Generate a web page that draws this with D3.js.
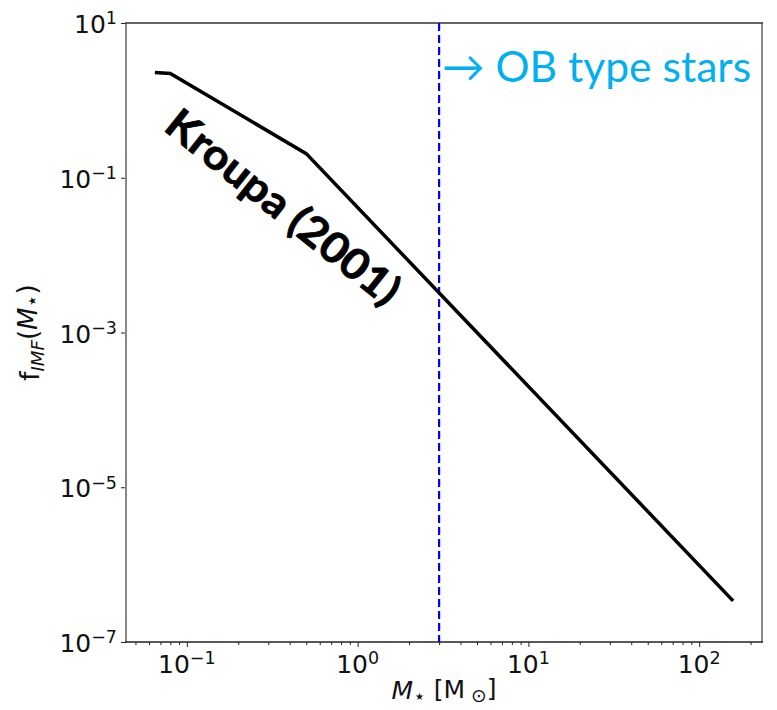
<!DOCTYPE html>
<html><head><meta charset="utf-8">
<script src="https://cdn.jsdelivr.net/npm/d3@7"></script>
<style>body{margin:0;background:#fff}svg{display:block}</style>
</head><body>
<svg id="c" width="777" height="710"></svg>
<script>
// ---- data ----
const masses = [0.065, 0.08, 0.5, 158];
const imf = [2.3, 2.22, 0.205, 3.4e-7];
const obMass = [3];
const xTickExps = [-1, 0, 1, 2];
const yTickExps = [1, -1, -3, -5, -7];
const lineLabel = "Kroupa (2001)";
const obLabel = "\u2192 OB type stars";

// ---- layout ----
const m = {l: 126, r: 762, t: 23, b: 642};
const svg = d3.select("#c");
const lmin = Math.log10(d3.min(masses)), lmax = Math.log10(d3.max(masses));
const pad = 0.05 * (lmax - lmin);
const x = d3.scaleLog().domain([10 ** (lmin - pad), 10 ** (lmax + pad)]).range([m.l, m.r]);
const y = d3.scaleLog().domain([1e-7, 10]).range([m.b, m.t]);

const font = "'DejaVu Sans', sans-serif";
const fs = 25;

// minor ticks
const minors = [];
for (let e = -2; e <= 2; e++) for (let k = 2; k <= 9; k++) {
  const v = k * 10 ** e;
  if (v >= x.domain()[0] && v <= x.domain()[1]) minors.push(v);
}

const gx = svg.append("g").attr("transform", `translate(0,${m.b})`);
gx.call(d3.axisBottom(x).tickValues(minors).tickSize(3).tickFormat(""));
gx.call(g => g.select(".domain").remove());
const gx2 = svg.append("g").attr("transform", `translate(0,${m.b})`);
gx2.call(d3.axisBottom(x).tickValues(xTickExps.map(e => 10 ** e)).tickSize(5).tickFormat(""));
gx2.call(g => g.select(".domain").remove());
svg.selectAll(".tick line").attr("stroke", "#222").attr("stroke-width", 1);

const gy = svg.append("g").attr("transform", `translate(${m.l},0)`);
gy.call(d3.axisLeft(y).tickValues(yTickExps.map(e => 10 ** e)).tickSize(5).tickFormat(""));
gy.call(g => g.select(".domain").remove());
gy.selectAll(".tick line").attr("stroke", "#222").attr("stroke-width", 1);

function powLabel(sel, e) {
  sel.append("tspan").text("10");
  sel.append("tspan").attr("dy", "-0.5em").attr("font-size", "0.7em")
    .text(e < 0 ? "\u2212" + Math.abs(e) : String(e));
}
xTickExps.forEach(e => {
  const t = svg.append("text").attr("x", x(10 ** e)).attr("y", 673)
    .attr("text-anchor", "middle").attr("font-family", font).attr("font-size", fs).attr("fill", "#111");
  powLabel(t, e);
});
yTickExps.forEach(e => {
  const t = svg.append("text").attr("x", m.l - 9).attr("y", y(10 ** e) + 10)
    .attr("text-anchor", "end").attr("font-family", font).attr("font-size", fs).attr("fill", "#111");
  powLabel(t, e);
});

// axis labels
const xl = svg.append("text").attr("x", (m.l + m.r) / 2).attr("y", 699)
  .attr("text-anchor", "middle").attr("font-family", font).attr("font-size", fs).attr("fill", "#111");
xl.append("tspan").attr("font-style", "italic").text("M");
xl.append("tspan").attr("font-size", "0.8em").attr("dy", "0.2em").text("\u22C6");
xl.append("tspan").attr("dy", "-0.2em").text(" [M");
xl.append("tspan").attr("font-size", "0.75em").attr("dy", "0.2em").text(" \u2299");
xl.append("tspan").attr("dy", "-0.2em").text("]");

const yl = svg.append("text").attr("transform", `translate(39,${(m.t + m.b) / 2}) rotate(-90)`)
  .attr("text-anchor", "middle").attr("font-family", font).attr("font-size", 26).attr("fill", "#111");
yl.append("tspan").text("f");
yl.append("tspan").attr("font-style", "italic").attr("font-size", "0.7em").attr("dy", "0.3em").text("IMF");
yl.append("tspan").attr("dy", "-0.3em").text("(");
yl.append("tspan").attr("font-style", "italic").text("M");
yl.append("tspan").attr("font-size", "0.8em").attr("dy", "0.1em").text("\u22C6");
yl.append("tspan").attr("dy", "-0.1em").text(")");

// frame
svg.append("line").attr("x1", m.l).attr("x2", m.l).attr("y1", m.t).attr("y2", m.b).attr("stroke", "#888").attr("stroke-width", 2);
svg.append("line").attr("x1", m.r).attr("x2", m.r).attr("y1", m.t).attr("y2", m.b).attr("stroke", "#888").attr("stroke-width", 2);
svg.append("line").attr("x1", m.l - 1).attr("x2", m.r + 1).attr("y1", m.t).attr("y2", m.t).attr("stroke", "#333").attr("stroke-width", 1.6);
svg.append("line").attr("x1", m.l - 1).attr("x2", m.r + 1).attr("y1", m.b).attr("y2", m.b).attr("stroke", "#222").attr("stroke-width", 1.6);

// OB dashed line
svg.selectAll(".ob").data(obMass).enter().append("line")
  .attr("x1", d => x(d)).attr("x2", d => x(d)).attr("y1", m.t).attr("y2", m.b)
  .attr("stroke", "#0000ff").attr("stroke-width", 2.2).attr("stroke-dasharray", "8,4");

// IMF line
const pts = masses.map((d, i) => [d, imf[i]]);
svg.append("path").datum(pts)
  .attr("d", d3.line().x(d => x(d[0])).y(d => y(d[1])))
  .attr("fill", "none").attr("stroke", "#000").attr("stroke-width", 3.5).attr("stroke-linejoin", "miter");

// annotations
svg.append("text").attr("transform", "translate(284,206) rotate(38.5)")
  .attr("text-anchor", "middle").attr("dominant-baseline", "central")
  .attr("font-family", "Lato, 'Open Sans', sans-serif").attr("font-weight", 700).attr("font-size", 42)
  .attr("stroke", "#000").attr("stroke-width", 0.8)
  .attr("textLength", 286).attr("lengthAdjust", "spacingAndGlyphs")
  .text(lineLabel);

svg.append("text").attr("x", x(obMass[0]) + 3).attr("y", 82)
  .attr("font-family", "Lato, 'Open Sans', sans-serif").attr("font-size", 43).attr("fill", "#00B0F0")
  .attr("textLength", 309).attr("lengthAdjust", "spacingAndGlyphs")
  .text(obLabel);
</script>
</body></html>
